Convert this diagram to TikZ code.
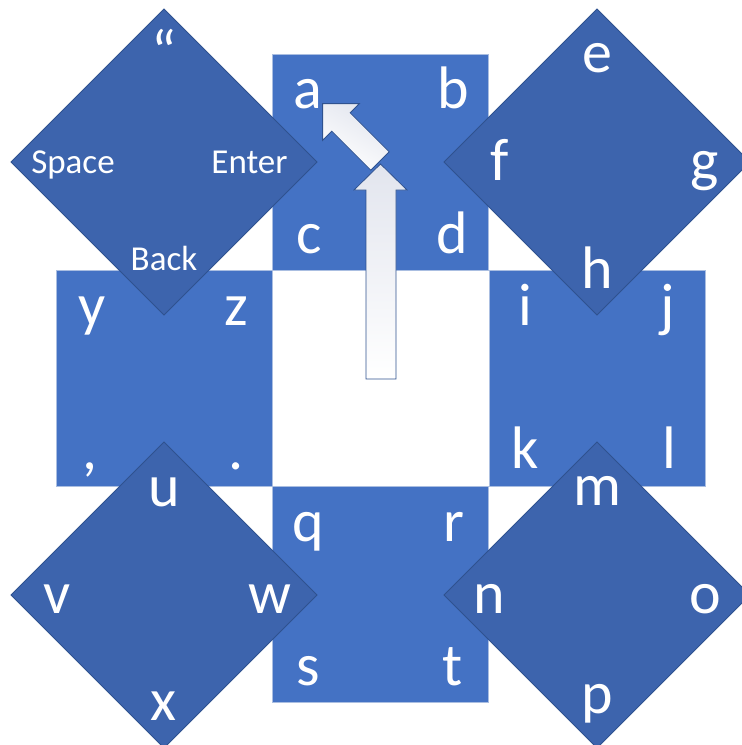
\documentclass[tikz,border=0pt]{standalone}
\usepackage{fontspec}
\setmainfont{Carlito}
\definecolor{sqfill}{RGB}{68,114,196}
\definecolor{sqline}{RGB}{170,190,225}
\definecolor{dmfill}{RGB}{61,100,173}
\definecolor{dmline}{RGB}{47,82,143}
\definecolor{arline}{RGB}{47,82,143}
\definecolor{argray}{RGB}{226,229,238}
\begin{document}
\begin{tikzpicture}[x=1pt,y=-1pt,
  sq/.style={draw=sqline,line width=0.6pt,fill=sqfill,minimum size=216pt,inner sep=0pt,outer sep=0pt},
  dm/.style={draw=dmline,line width=0.8pt,fill=dmfill},
  key/.style={text=white,anchor=base,inner sep=0pt,font=\fontsize{60}{72}\selectfont},
  skey/.style={text=white,anchor=base,inner sep=0pt,font=\fontsize{35}{42}\selectfont},
  blockarrow/.style={draw=arline,line width=0.8pt}]
\useasboundingbox (0,0) rectangle (742,745);
\clip (0,0) rectangle (742,745);
% squares
\node[sq] (top) at (380.5,162) {};
\node[sq] (left) at (164,378) {};
\node[sq] (right) at (597,378) {};
\node[sq] (bottom) at (380.5,594) {};
% diamonds
\foreach \n/\cx/\cy in {dtl/164/162,dtr/597/162,dbl/164/595,dbr/597/595}{
  \coordinate (\n) at (\cx,\cy);
  \draw[dm] ([yshift=-153pt]\n) -- ([xshift=153pt]\n) -- ([yshift=153pt]\n) -- ([xshift=-153pt]\n) -- cycle;
}
% square letters
\node[key] (ka) at (308,108) {a};
\node[key] (kb) at (453,108) {b};
\node[key] (kc) at (309,253) {c};
\node[key] (kd) at (452,253) {d};
\node[key] (ky) at (92,325) {y};
\node[key] (kz) at (236,325) {z};
\node[key] (kcomma) at (90,469) {,};
\node[key] (kdot) at (236,469) {.};
\node[key] (ki) at (525,325) {i};
\node[key] (kj) at (668,325) {j};
\node[key] (kk) at (525,468) {k};
\node[key] (kl) at (669,468) {l};
\node[key] (kq) at (308,541) {q};
\node[key] (kr) at (454,541) {r};
\node[key] (ks) at (308,685) {s};
\node[key] (kt) at (453,685) {t};
% diamond letters
\node[key] (ke) at (597,72) {e};
\node[key] (kf) at (500,180) {f};
\node[key] (kg) at (705,180) {g};
\node[key] (kh) at (597,288) {h};
\node[key] (ku) at (164,506) {u};
\node[key] (kv) at (57,613) {v};
\node[key] (kw) at (270,613) {w};
\node[key] (kx) at (163,720) {x};
\node[key] (km) at (597,505) {m};
\node[key] (kn) at (489,613) {n};
\node[key] (ko) at (705,613) {o};
\node[key] (kp) at (597,713) {p};
\node[key] (kquote) at (164,72) {“};
\node[skey] (kspace) at (73,173) {Space};
\node[skey] (kenter) at (249.5,173) {Enter};
\node[skey] (kback) at (164,270) {Back};
% arrows
\draw[blockarrow,top color=argray,bottom color=white,shading angle=-30]
  (370.8,170.2) -- (331.8,131.2) -- (322.6,140.4) -- (322.6,103.6) -- (359.4,103.6) -- (350.2,112.8) -- (389.2,151.8) -- cycle;
\draw[blockarrow,top color=argray,bottom color=white]
  (366,379) -- (366,190) -- (354,190) -- (380.5,164) -- (407,190) -- (396,190) -- (396,379) -- cycle;
\end{tikzpicture}
\end{document}
